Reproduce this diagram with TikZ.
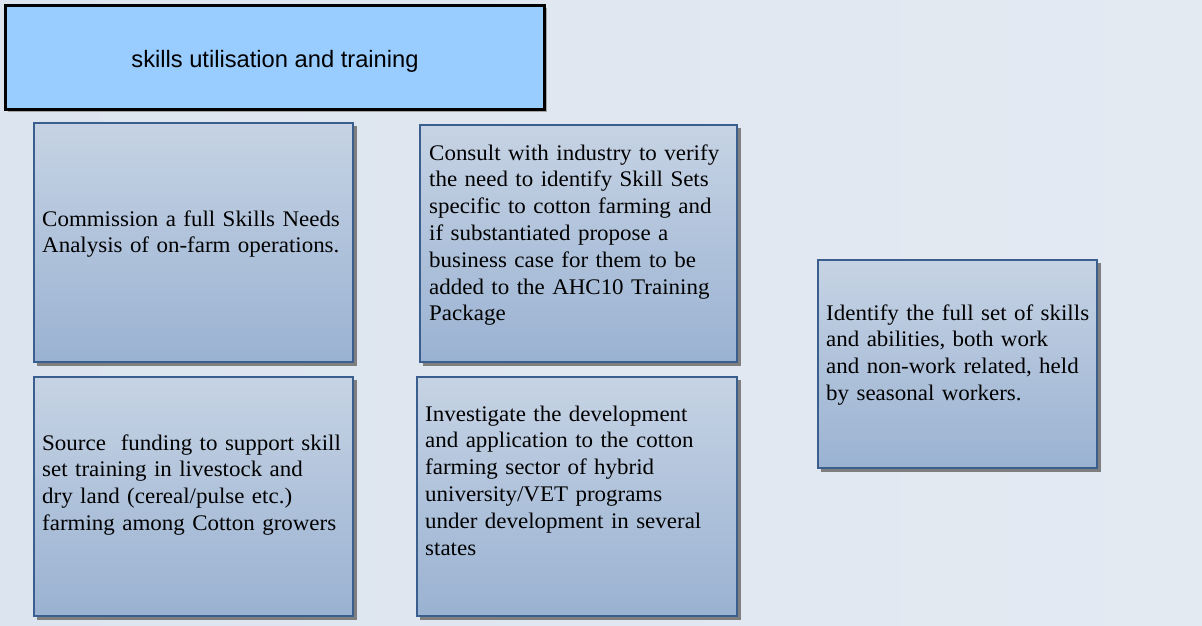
\documentclass[tikz,border=0pt]{standalone}
\usepackage{fontspec}
\setmainfont[FakeStretch=1.03]{Liberation Serif}
\newfontfamily\titlefont{Liberation Sans}
\definecolor{bgcol}{HTML}{DCE4EF}
\definecolor{bgright}{HTML}{E4EAF2}
\definecolor{titlefill}{HTML}{99CCFF}
\definecolor{boxtop}{HTML}{C6D3E4}
\definecolor{boxbot}{HTML}{9AB2D2}
\definecolor{boxline}{HTML}{3A5F8F}
\definecolor{shadowcol}{HTML}{7F7F7F}
\tikzset{
  titlebox/.style={draw=black, line width=3pt, fill=titlefill},
  shadowbox/.style={fill=shadowcol, draw=none},
  itembox/.style={draw=boxline, line width=1.3pt, top color=boxtop, bottom color=boxbot},
  itemtext/.style={anchor=base west, inner sep=0pt, align=left, font=\fontsize{22.3}{26.8}\selectfont, text=black}
}
\begin{document}
\begin{tikzpicture}[x=1pt,y=-1pt]
\useasboundingbox (0,0) rectangle (1202,625);
\shade[left color=bgcol, right color=bgright] (0,0) rectangle (1202,625);
% title
\fill[shadowcol!70] (8,8) rectangle (547,112);
\draw[titlebox] (5,5) rectangle (544,109);
\node[font=\titlefont\fontsize{23.7}{28}\selectfont] (title) at (275,61) {skills utilisation and training};
% box 1
\fill[shadowbox] (37,126) rectangle (357,366);
\draw[itembox] (34,123) rectangle (353,362);
\node[itemtext, text width=310pt] (b1) at (42,226) {Commission a full Skills Needs\\Analysis of on-farm operations.};
% box 2
\fill[shadowbox] (423,128) rectangle (741,366);
\draw[itembox] (420,125) rectangle (737,362);
\node[itemtext, text width=310pt] (b2) at (429,160) {Consult with industry to verify\\the need to identify Skill Sets\\specific to cotton farming and\\if substantiated propose a\\business case for them to be\\added to the AHC10 Training\\Package};
% box 3
\fill[shadowbox] (37,380) rectangle (357,620);
\draw[itembox] (34,377) rectangle (353,616);
\node[itemtext, text width=310pt] (b3) at (42,450) {Source\ \ funding to support skill\\set training in livestock and\\dry land (cereal/pulse etc.)\\farming among Cotton growers};
% box 4
\fill[shadowbox] (420,380) rectangle (741,620);
\draw[itembox] (417,377) rectangle (737,616);
\node[itemtext, text width=310pt] (b4) at (425,421) {Investigate the development\\and application to the cotton\\farming sector of hybrid\\university/VET programs\\under development in several\\states};
% box 5
\fill[shadowbox] (821,263) rectangle (1101,472);
\draw[itembox] (818,260) rectangle (1097,468);
\node[itemtext, text width=270pt] (b5) at (826,320) {Identify the full set of skills\\and abilities, both work\\and non-work related, held\\by seasonal workers.};
\end{tikzpicture}
\end{document}
